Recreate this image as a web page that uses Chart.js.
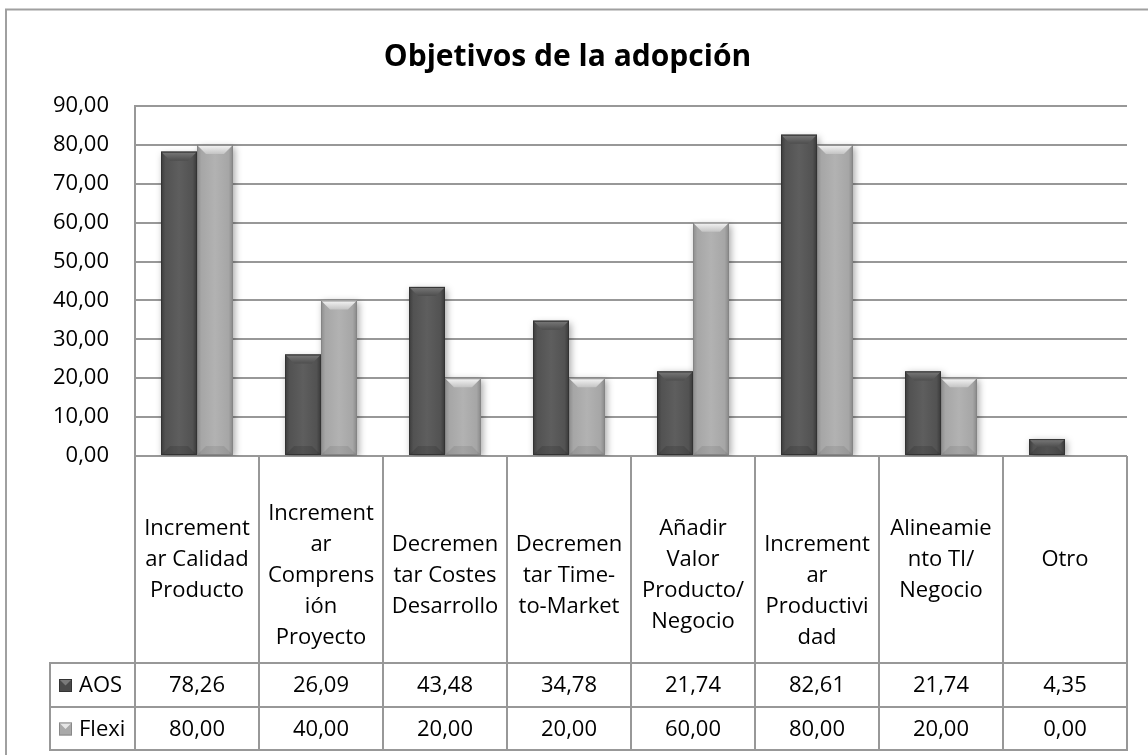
<!DOCTYPE html>
<html><head><meta charset="utf-8">
<script src="https://cdn.jsdelivr.net/npm/chart.js@4.4.1/dist/chart.umd.min.js"></script>
<style>html,body{margin:0;padding:0;background:#fff;}canvas{display:block;}</style>
</head><body>
<canvas id="c" width="1148" height="755"></canvas>
<script>
const chartTitle = 'Objetivos de la adopción';
const categories = [
  ['Increment', 'ar Calidad', 'Producto', ''],
  ['Increment', 'ar', 'Comprens', 'ión', 'Proyecto'],
  ['Decremen', 'tar Costes', 'Desarrollo'],
  ['Decremen', 'tar Time-', 'to-Market'],
  ['Añadir', 'Valor', 'Producto/', 'Negocio'],
  ['', 'Increment', 'ar', 'Productivi', 'dad'],
  ['Alineamie', 'nto TI/', 'Negocio', ''],
  ['Otro', '']
];
const seriesNames = ['AOS', 'Flexi'];
const aosValues = [78.26, 26.09, 43.48, 34.78, 21.74, 82.61, 21.74, 4.35];
const flexiValues = [80.00, 40.00, 20.00, 20.00, 60.00, 80.00, 20.00, 0.00];
const yMin = 0, yMax = 90, yStep = 10;

const FONT = '"Open Sans", "DejaVu Sans", sans-serif';
const fmt = v => Number(v).toFixed(2).replace('.', ',');
const GRID = '#989898';

function shadeBar(ctx, el, dark) {
  const p = el.getProps(['x', 'y', 'base', 'width'], true);
  const l = p.x - p.width / 2, r = p.x + p.width / 2;
  const t = Math.min(p.y, p.base), b = Math.max(p.y, p.base), h = b - t, w = p.width;
  if (h <= 0.5) return;
  const g = ctx.createLinearGradient(l, 0, r, 0);
  if (dark) {
    g.addColorStop(0, '#3c3c3c'); g.addColorStop(0.12, '#525252'); g.addColorStop(0.5, '#5e5e5e');
    g.addColorStop(0.88, '#525252'); g.addColorStop(1, '#383838');
  } else {
    g.addColorStop(0, '#8c8c8c'); g.addColorStop(0.12, '#a6a6a6'); g.addColorStop(0.5, '#b2b2b2');
    g.addColorStop(0.88, '#a6a6a6'); g.addColorStop(1, '#888888');
  }
  ctx.fillStyle = g;
  ctx.fillRect(l, t, w, h);
  const bv = Math.min(9, h / 2);
  ctx.beginPath();
  ctx.moveTo(l, t); ctx.lineTo(r, t); ctx.lineTo(r - bv, t + bv); ctx.lineTo(l + bv, t + bv); ctx.closePath();
  const gt = ctx.createLinearGradient(0, t, 0, t + bv);
  if (dark) { gt.addColorStop(0, '#7a7a7a'); gt.addColorStop(1, '#4e4e4e'); }
  else { gt.addColorStop(0, '#f6f6f6'); gt.addColorStop(1, '#c4c4c4'); }
  ctx.fillStyle = gt; ctx.fill();
  ctx.beginPath();
  ctx.moveTo(l, b); ctx.lineTo(r, b); ctx.lineTo(r - bv, b - bv); ctx.lineTo(l + bv, b - bv); ctx.closePath();
  ctx.fillStyle = dark ? 'rgba(0,0,0,0.12)' : 'rgba(0,0,0,0.08)';
  ctx.fill();
  ctx.strokeStyle = dark ? '#333333' : '#858585';
  ctx.lineWidth = 1;
  ctx.strokeRect(l + 0.5, t + 0.5, w - 1, h - 1);
}

function legendSwatch(ctx, x, y, s, dark) {
  ctx.fillStyle = dark ? '#4a4a4a' : '#a9a9a9';
  ctx.fillRect(x, y, s, s);
  ctx.beginPath();
  ctx.moveTo(x, y); ctx.lineTo(x + s, y); ctx.lineTo(x + s / 2, y + s / 2); ctx.closePath();
  ctx.fillStyle = dark ? '#7a7a7a' : '#e6e6e6';
  ctx.fill();
  ctx.strokeStyle = dark ? '#333' : '#888';
  ctx.lineWidth = 1;
  ctx.strokeRect(x + 0.5, y + 0.5, s - 1, s - 1);
}

const framePlugin = {
  id: 'frame',
  beforeDraw(chart) {
    const ctx = chart.ctx;
    ctx.save();
    ctx.fillStyle = '#fff';
    ctx.fillRect(0, 0, chart.width, chart.height);
    ctx.strokeStyle = '#a0a0a0';
    ctx.lineWidth = 2;
    ctx.strokeRect(6, 9.5, chart.width + 20, chart.height + 20);
    ctx.restore();
  }
};

const barStylePlugin = {
  id: 'barStyle',
  beforeDatasetsDraw(chart) {
    const ctx = chart.ctx;
    ctx.save();
    ctx.shadowColor = 'rgba(0,0,0,0.35)';
    ctx.shadowBlur = 7;
    ctx.shadowOffsetX = 2;
    ctx.shadowOffsetY = 2;
  },
  afterDatasetsDraw(chart) {
    const ctx = chart.ctx;
    ctx.restore();
    ctx.save();
    chart.data.datasets.forEach((ds, i) => {
      chart.getDatasetMeta(i).data.forEach(el => shadeBar(ctx, el, i === 0));
    });
    ctx.restore();
  }
};

const tablePlugin = {
  id: 'dataTable',
  afterDraw(chart) {
    const ctx = chart.ctx, a = chart.chartArea, xs = chart.scales.x;
    const n = categories.length;
    const colW = (a.right - a.left) / n;
    const top = a.bottom;
    const headBottom = top + 207;
    const row1Bottom = headBottom + 44;
    const row2Bottom = row1Bottom + 43;
    const legLeft = 50;
    ctx.save();
    ctx.strokeStyle = GRID;
    ctx.lineWidth = 2;
    ctx.beginPath();
    [headBottom, row1Bottom, row2Bottom].forEach(y => { ctx.moveTo(legLeft, y); ctx.lineTo(a.right, y); });
    for (let i = 0; i <= n; i++) {
      const xx = i < n ? xs.getPixelForValue(i) - colW / 2 : xs.getPixelForValue(n - 1) + colW / 2;
      ctx.moveTo(xx, top); ctx.lineTo(xx, row2Bottom + 1);
    }
    ctx.moveTo(legLeft, headBottom - 1); ctx.lineTo(legLeft, row2Bottom + 1);
    ctx.stroke();

    ctx.fillStyle = '#000';
    ctx.font = '22px ' + FONT;
    ctx.textAlign = 'center';
    ctx.textBaseline = 'middle';
    const lh = 31;
    const cy = (top + headBottom) / 2 + 16;
    categories.forEach((lines, i) => {
      const cx = xs.getPixelForValue(i);
      const y0 = cy - (lines.length - 1) * lh / 2;
      lines.forEach((s, k) => ctx.fillText(s, cx, y0 + k * lh));
    });
    const rows = [[aosValues, (headBottom + row1Bottom) / 2], [flexiValues, (row1Bottom + row2Bottom) / 2]];
    rows.forEach(([vals, ry], r) => {
      vals.forEach((v, i) => ctx.fillText(fmt(v), xs.getPixelForValue(i), ry + 1));
      legendSwatch(ctx, 59, ry - 6, 13, r === 0);
      ctx.textAlign = 'left';
      ctx.fillStyle = '#000';
      ctx.fillText(seriesNames[r], 79, ry + 1);
      ctx.textAlign = 'center';
    });
    ctx.restore();
  }
};

new Chart(document.getElementById('c'), {
  type: 'bar',
  data: {
    labels: categories,
    datasets: [
      { label: seriesNames[0], data: aosValues, backgroundColor: '#555555', borderWidth: 0 },
      { label: seriesNames[1], data: flexiValues, backgroundColor: '#a9a9a9', borderWidth: 0 }
    ]
  },
  options: {
    responsive: false,
    animation: false,
    devicePixelRatio: 1,
    categoryPercentage: 0.58,
    barPercentage: 1.0,
    layout: { padding: { left: 8, right: 21, top: 10, bottom: 299 } },
    plugins: {
      legend: { display: false },
      tooltip: { enabled: false },
      title: {
        display: true,
        text: chartTitle,
        color: '#000',
        font: { family: FONT, size: 30, weight: 'bold' },
        padding: { top: 29, bottom: 31 }
      }
    },
    scales: {
      x: { display: false },
      y: {
        min: yMin, max: yMax,
        afterFit(scale) { scale.width = 127; },
        border: { display: true, color: GRID, width: 2 },
        grid: { color: GRID, lineWidth: 2, drawTicks: false },
        ticks: {
          stepSize: yStep,
          padding: 26,
          color: '#000',
          font: { family: FONT, size: 22 },
          callback: v => fmt(v)
        }
      }
    }
  },
  plugins: [framePlugin, barStylePlugin, tablePlugin]
});
</script>
</body></html>
